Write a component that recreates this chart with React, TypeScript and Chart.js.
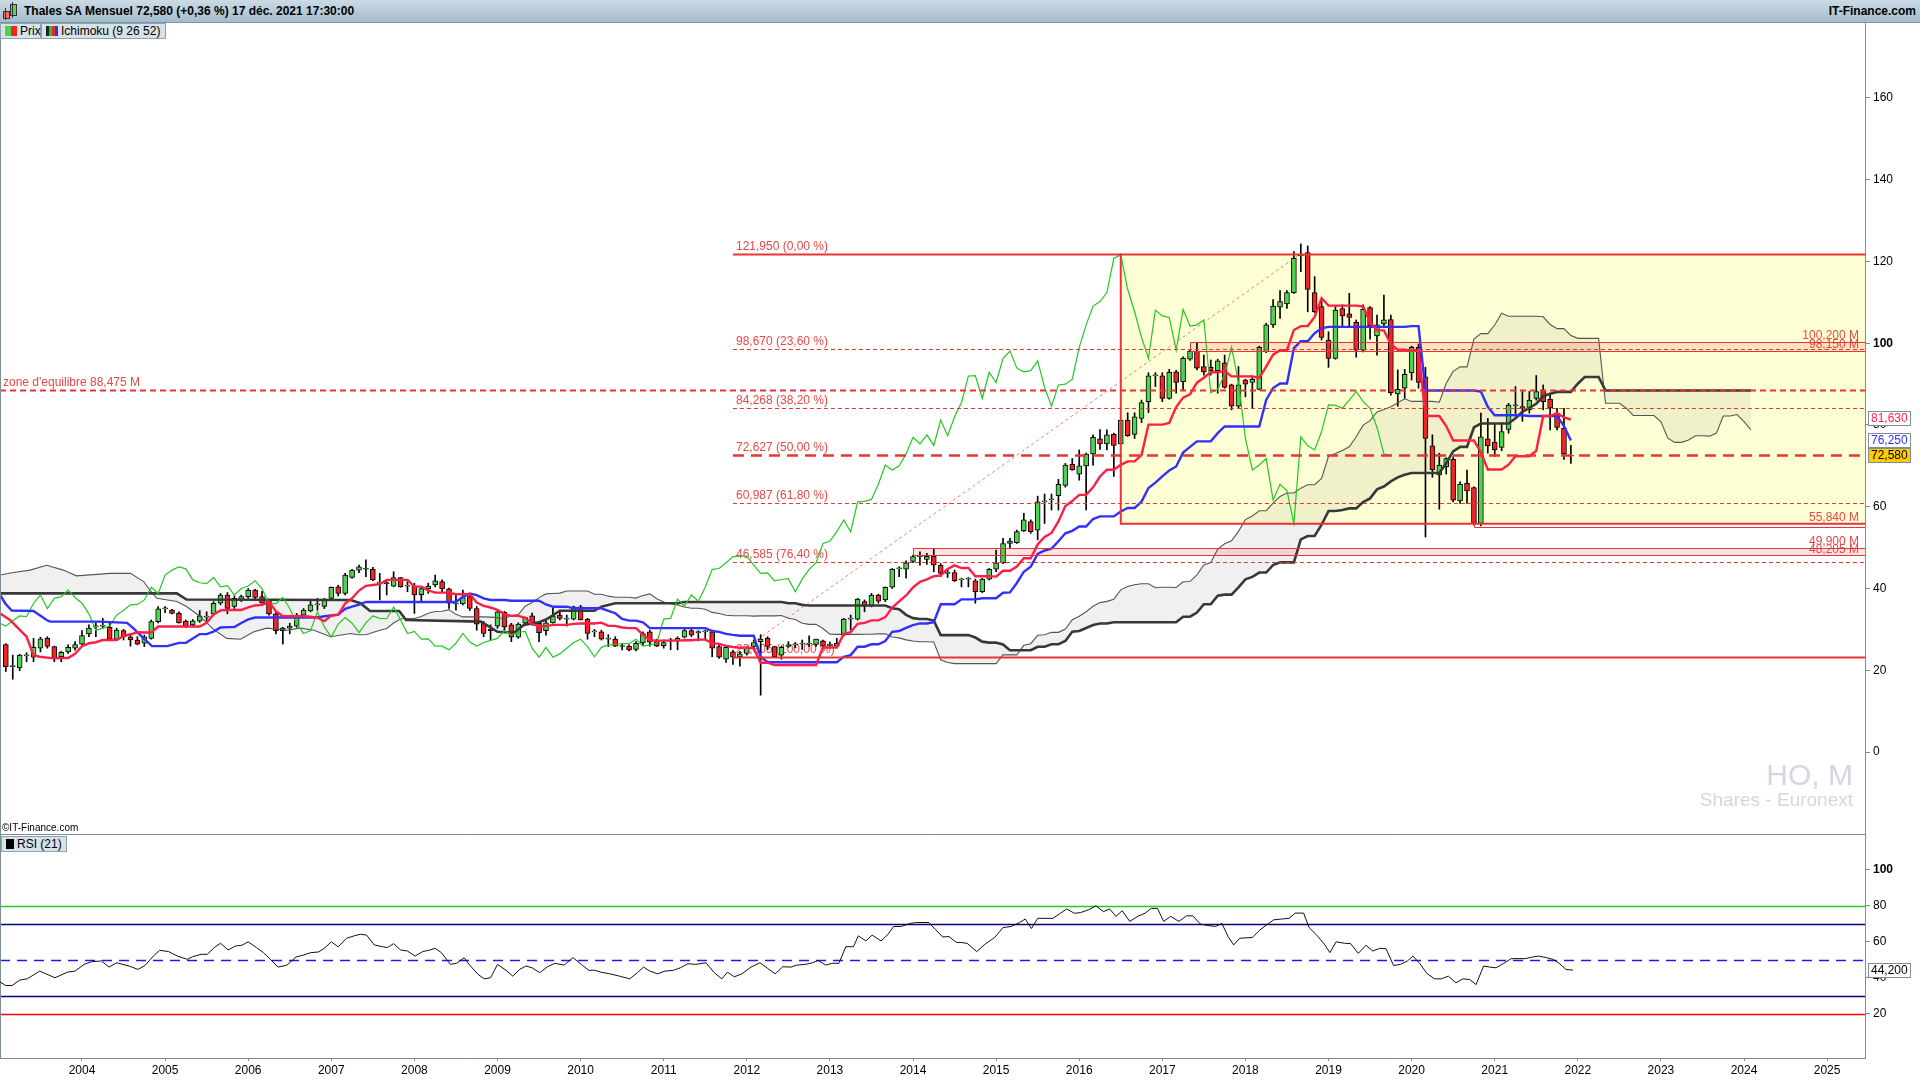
import React, { useEffect, useRef } from "react";
import { Chart, registerables } from "chart.js";

Chart.register(...registerables);

// ---------- DATA (month index counted from January 2003) ----------
const FIRST_MONTH = 1; // first candle = February 2003

const opens = [
  26.3, 20.9, 20.6, 23.5, 23.2, 25.4, 27.8, 25.8, 23.3, 24.5,
  25.4, 26.4, 28.9, 30.6, 30.8, 30.5, 27.6, 29.7, 28.2, 27.4,
  26.6, 27.8, 31.9, 35.0, 34.7, 33.9, 32.0, 31.1, 32.0, 33.0,
  33.8, 36.4, 38.4, 35.6, 37.3, 38.0, 39.6, 38.0, 37.0, 33.8,
  29.7, 30.3, 30.8, 33.5, 34.5, 36.0, 35.6, 37.6, 40.4, 38.8,
  42.7, 44.5, 44.7, 44.7, 41.3, 41.3, 40.6, 42.7, 40.6, 40.6,
  38.5, 39.9, 40.9, 41.7, 39.9, 36.2, 36.2, 38.0, 35.1, 31.5,
  30.0, 30.8, 34.2, 31.1, 28.1, 31.5, 33.3, 31.5, 29.7, 31.6,
  33.5, 32.5, 32.5, 35.5, 32.5, 29.4, 29.4, 27.6, 27.6, 25.8,
  25.9, 25.1, 26.7, 29.4, 27.0, 26.0, 27.2, 27.2, 28.1, 29.7,
  29.2, 29.4, 29.4, 25.8, 22.7, 24.5, 23.3, 24.1, 25.8, 27.0,
  27.8, 25.8, 23.7, 25.8, 26.2, 26.4, 26.4, 26.3, 27.2, 26.1,
  25.9, 28.6, 32.5, 32.5, 36.8, 35.7, 38.4, 37.2, 40.3, 44.8,
  44.7, 46.6, 47.8, 47.1, 47.9, 45.7, 43.7, 43.9, 42.1, 42.3,
  41.9, 39.2, 42.3, 44.7, 46.3, 51.0, 51.2, 54.1, 56.4, 54.3,
  61.2, 61.7, 62.7, 65.2, 70.4, 68.0, 70.0, 72.9, 76.6, 75.4,
  77.7, 75.4, 81.2, 77.7, 81.6, 85.7, 92.0, 92.0, 86.5, 93.0,
  90.6, 96.1, 98.1, 94.3, 94.1, 93.3, 95.2, 89.8, 84.6, 91.0,
  90.4, 88.7, 97.9, 104.5, 108.8, 109.6, 112.4, 121.4, 122.2, 112.4,
  109.0, 100.8, 96.3, 108.5, 107.2, 105.1, 98.3, 108.7, 101.8, 104.7,
  105.8, 87.6, 89.0, 92.8, 99.0, 91.8, 74.9, 67.8, 69.8, 71.6,
  61.4, 65.7, 64.7, 55.9, 76.6, 75.8, 74.5, 78.9, 84.7, 84.5,
  83.7, 86.5, 88.6, 86.3, 82.9, 79.2, 72.4,
];
const highs = [
  26.5, 23.7, 23.9, 24.3, 27.8, 28.1, 28.2, 25.9, 24.6, 26.2,
  27.0, 29.7, 31.1, 31.6, 32.7, 31.5, 30.3, 30.0, 29.0, 28.2,
  28.6, 32.3, 35.6, 35.6, 34.9, 34.3, 32.3, 32.4, 34.6, 34.3,
  36.8, 38.8, 39.0, 38.2, 38.4, 40.0, 39.8, 39.3, 37.2, 34.1,
  30.5, 31.5, 33.9, 35.1, 37.2, 37.6, 37.6, 40.4, 40.8, 43.7,
  44.7, 45.7, 47.0, 45.2, 43.7, 41.7, 44.1, 42.7, 41.7, 41.3,
  40.4, 41.3, 43.3, 42.1, 40.1, 38.8, 39.6, 38.7, 35.6, 31.9,
  31.1, 34.6, 34.4, 31.5, 31.6, 33.0, 34.0, 31.9, 32.3, 35.2,
  34.3, 33.5, 35.7, 35.9, 32.7, 30.0, 29.8, 28.7, 28.2, 26.4,
  26.2, 27.0, 29.4, 29.8, 27.6, 27.4, 27.8, 28.2, 30.0, 30.0,
  29.7, 29.8, 29.8, 26.2, 25.9, 24.9, 24.6, 25.8, 27.4, 28.7,
  28.2, 25.9, 25.9, 27.0, 26.8, 27.4, 28.4, 27.6, 27.4, 26.9,
  27.8, 32.7, 33.5, 37.6, 37.2, 38.8, 38.6, 40.4, 44.9, 45.3,
  46.8, 48.2, 49.0, 48.6, 49.6, 46.1, 44.7, 44.5, 42.5, 42.7,
  42.3, 42.5, 44.9, 49.4, 52.3, 52.3, 54.3, 58.4, 56.8, 62.6,
  63.1, 63.1, 66.7, 70.6, 71.8, 73.9, 73.1, 77.6, 78.9, 78.8,
  78.0, 81.3, 83.0, 83.0, 86.1, 92.8, 92.8, 92.8, 93.6, 93.4,
  96.7, 98.3, 100.1, 97.1, 95.9, 96.1, 97.1, 90.0, 94.3, 91.2,
  92.0, 99.3, 104.9, 110.7, 112.9, 112.9, 122.4, 124.3, 123.8, 116.3,
  110.6, 102.8, 108.9, 109.4, 112.2, 105.7, 109.4, 109.0, 106.9, 111.8,
  106.9, 93.5, 93.6, 99.3, 99.8, 94.1, 77.6, 73.1, 72.0, 72.2,
  66.1, 69.0, 64.9, 82.9, 81.6, 80.4, 80.6, 85.3, 89.4, 88.2,
  88.2, 92.1, 89.8, 87.7, 84.1, 84.1, 75.0,
];
const lows = [
  19.7, 17.8, 19.9, 22.1, 22.1, 24.5, 25.4, 22.1, 22.1, 24.1,
  24.9, 26.2, 28.2, 28.2, 30.3, 27.4, 27.4, 27.4, 25.9, 26.2,
  25.8, 27.6, 31.6, 34.1, 33.8, 31.5, 30.5, 30.8, 31.7, 32.0,
  33.5, 36.0, 33.8, 35.1, 36.8, 37.6, 37.3, 36.4, 33.5, 28.9,
  26.4, 28.9, 30.5, 33.3, 34.3, 34.7, 35.1, 37.2, 38.2, 38.4,
  42.5, 43.9, 42.9, 41.9, 37.2, 38.4, 40.4, 40.3, 39.2, 33.9,
  36.8, 38.8, 40.4, 39.2, 35.1, 34.7, 36.0, 34.6, 29.8, 28.2,
  27.4, 30.3, 29.5, 27.0, 27.8, 31.0, 31.0, 27.0, 28.6, 31.5,
  32.3, 30.8, 32.3, 32.3, 27.6, 28.2, 27.4, 25.8, 25.8, 25.0,
  24.7, 24.7, 26.1, 25.9, 25.8, 25.4, 25.0, 25.0, 27.9, 28.2,
  27.2, 27.6, 23.3, 22.9, 21.9, 21.4, 21.0, 23.7, 25.0, 13.9,
  25.0, 23.2, 22.7, 25.6, 25.5, 25.1, 25.8, 25.8, 25.6, 25.6,
  25.8, 28.4, 29.8, 32.3, 34.3, 35.5, 36.4, 36.8, 40.0, 42.9,
  42.5, 46.3, 45.7, 45.9, 44.1, 42.9, 42.7, 41.7, 40.4, 40.4,
  36.4, 39.0, 42.1, 44.1, 46.1, 49.8, 51.0, 53.9, 53.5, 51.9,
  55.9, 59.2, 59.2, 64.8, 68.9, 66.5, 59.2, 70.2, 74.0, 73.9,
  67.4, 75.2, 77.2, 76.7, 80.6, 83.0, 89.4, 85.7, 86.3, 87.8,
  88.6, 95.8, 93.5, 92.2, 92.2, 87.8, 89.0, 83.7, 84.1, 86.9,
  84.1, 88.6, 97.7, 103.9, 106.1, 108.5, 112.2, 117.5, 107.7, 107.5,
  100.8, 94.1, 96.1, 104.2, 103.9, 96.6, 97.9, 101.0, 97.1, 103.9,
  87.3, 84.6, 86.5, 91.0, 89.0, 52.6, 67.2, 59.4, 68.0, 61.2,
  60.8, 60.8, 55.5, 55.3, 73.1, 72.3, 73.7, 78.0, 82.8, 80.9,
  82.9, 86.1, 83.7, 78.8, 78.8, 71.6, 70.6,
];
const closes = [
  20.9, 21.0, 23.7, 23.6, 25.6, 27.7, 25.8, 23.0, 24.4, 25.6,
  26.3, 28.5, 30.3, 30.8, 30.9, 27.6, 29.8, 28.2, 27.4, 26.4,
  28.2, 31.9, 35.0, 35.1, 33.9, 31.6, 30.8, 32.1, 33.3, 33.1,
  36.4, 38.4, 35.1, 37.6, 38.0, 39.6, 37.8, 36.4, 33.8, 29.7,
  30.3, 30.8, 33.5, 34.7, 36.0, 36.1, 37.2, 40.3, 38.8, 43.3,
  44.5, 45.3, 44.8, 42.1, 41.4, 41.2, 42.7, 40.4, 40.7, 38.4,
  40.0, 40.6, 41.9, 39.9, 36.4, 36.3, 37.8, 35.1, 31.3, 29.0,
  29.7, 34.3, 30.6, 28.1, 31.3, 32.9, 31.5, 29.2, 31.6, 33.3,
  32.7, 32.6, 35.5, 32.3, 29.0, 29.5, 27.6, 27.7, 25.9, 25.9,
  25.0, 26.6, 29.0, 26.9, 25.9, 26.8, 27.3, 27.8, 29.7, 28.6,
  29.3, 29.5, 25.4, 23.2, 25.6, 23.2, 24.0, 25.4, 26.8, 27.6,
  25.8, 23.3, 25.6, 26.2, 26.3, 26.5, 26.5, 27.6, 25.9, 26.2,
  26.6, 32.5, 32.7, 37.4, 35.7, 38.4, 36.9, 40.3, 44.7, 44.9,
  46.3, 47.8, 47.9, 47.9, 45.7, 43.7, 43.8, 41.9, 42.2, 42.4,
  39.2, 42.3, 44.7, 46.3, 51.0, 51.6, 53.9, 56.8, 53.9, 61.2,
  61.3, 61.8, 65.5, 70.2, 69.0, 70.0, 72.9, 77.0, 75.4, 77.6,
  75.0, 81.2, 77.4, 82.0, 85.5, 92.0, 92.1, 86.5, 92.9, 90.4,
  96.3, 98.1, 93.9, 93.0, 93.3, 95.7, 89.2, 84.6, 89.8, 90.0,
  91.2, 99.0, 104.5, 109.1, 110.2, 112.4, 120.8, 121.6, 113.2, 107.7,
  101.4, 96.3, 108.1, 106.7, 106.3, 98.3, 108.3, 104.2, 104.5, 105.7,
  87.9, 88.7, 92.4, 99.0, 90.4, 76.7, 69.0, 70.2, 71.8, 61.6,
  65.5, 63.9, 55.9, 77.1, 74.9, 73.9, 78.4, 84.9, 84.8, 84.1,
  86.1, 88.2, 85.7, 84.1, 79.4, 72.9, 72.58,
];

// Ichimoku values read from the picture where the candles shown do not yet cover the window
const tenkanLead = [[0.2, 33.9], [1.6, 32.3], [3.05, 29.8], [4.0, 28.2], [5.0, 23.7], [5.9, 23.3], [7.9, 22.9]];
const kijunLead = [[0.2, 38.4], [0.9, 36.4], [1.85, 34.6], [5.0, 34.5], [6.9, 32.3], [7.4, 31.9], [14.6, 31.9], [18.5, 31.6], [19.4, 30.3], [20.9, 27.8], [22.1, 25.9], [24.3, 25.9]];
const spanALead = [[0.2, 43.3], [2.1, 43.9], [4.5, 44.5], [6.9, 45.7], [9.3, 44.5], [11.2, 43.1], [16.1, 43.7], [19.0, 43.7], [20.9, 41.7], [21.8, 39.6], [22.8, 37.6], [25.7, 36.8], [27.1, 35.6], [29.1, 33.1], [31.0, 30.0], [32.9, 27.8], [34.9, 27.6], [36.8, 29.4], [38.7, 30.3], [41.6, 29.8], [43.5, 30.3], [45.5, 29.8], [47.9, 28.2], [50.8, 29.0]];
const spanBLead = [[0.2, 38.8], [25.7, 38.8], [27.1, 37.3], [50.8, 37.2], [52.2, 36.4], [53.6, 34.5], [57.8, 34.5], [58.8, 32.3], [69.6, 31.9], [72.0, 29.4], [74.4, 29.2], [75.8, 31.1]];

// RSI(21): [month, value]
const rsiPoints = [
  [0, 38.1], [1, 35.7], [1.9, 35.7], [3, 38.7], [4.1, 39.4], [5.9, 43.7], [8.1, 40.0], [9.9, 43.1], [11, 43.7], [12.3, 47.4],
  [13.4, 48.9], [14.8, 49.3], [15.9, 45.9], [17, 48.3], [18.8, 46.5], [20.1, 44.6], [21.1, 46.8], [22.3, 52.0], [23.2, 55.2], [24.5, 54.5],
  [25.8, 52.0], [27.2, 50.2], [28, 51.7], [29.2, 53.0], [30.1, 53.0], [31.1, 56.7], [32, 59.1], [33.1, 55.4], [34.2, 57.6], [35.1, 58.0],
  [36, 59.9], [37.2, 56.7], [38.2, 53.9], [39.1, 50.6], [40.3, 45.9], [41.6, 47.0], [42.9, 51.5], [44, 52.6], [45, 53.9], [46.2, 54.3],
  [47.1, 56.7], [48, 59.9], [49, 57.1], [50.2, 61.9], [51.3, 63.2], [52.2, 64.1], [53.1, 63.6], [54.2, 58.2], [55.5, 57.1], [56.1, 56.7],
  [57, 58.9], [58, 55.4], [59, 54.8], [60.1, 52.0], [61.2, 54.5], [62.1, 55.2], [63, 56.3], [63.9, 53.9], [65.2, 47.4], [66.1, 48.0],
  [67.2, 51.1], [67.9, 47.4], [69.2, 41.8], [70.1, 39.4], [71, 40.0], [72, 47.4], [73.2, 44.2], [74.2, 40.9], [75.2, 44.6], [76.1, 46.5],
  [77, 45.5], [78.1, 42.8], [79.2, 46.1], [80.3, 48.0], [81.6, 47.0], [82.9, 51.1], [84.1, 47.4], [85.2, 44.1], [86, 44.2], [86.9, 43.1],
  [88.2, 42.2], [89.6, 40.9], [91.1, 39.4], [92.2, 42.8], [93.1, 45.9], [94, 43.7], [95.1, 42.2], [96.2, 43.7], [97.4, 44.1], [98.4, 45.5],
  [99.5, 47.8], [100.6, 47.4], [102.1, 48.3], [103.3, 42.8], [104.4, 39.4], [105.2, 43.1], [106.2, 40.5], [107.3, 42.2], [108.6, 45.9], [109.9, 48.3],
  [111, 45.2], [112.1, 42.2], [113.2, 46.1], [114.4, 45.9], [115.2, 47.0], [116.4, 47.4], [117.5, 48.3], [118.3, 49.6], [119.4, 47.0], [120.3, 48.0],
  [121.3, 48.0], [122.3, 57.2], [123.4, 57.2], [124.1, 63.2], [125.2, 60.4], [126.1, 63.6], [127.4, 60.4], [128.4, 64.1], [129.2, 68.4], [130.3, 68.4],
  [131.6, 70.1], [132.5, 70.6], [134.3, 70.6], [135.2, 66.9], [136.3, 62.6], [137.2, 62.8], [138.3, 59.5], [139, 59.5], [139.8, 59.1], [141.2, 54.5],
  [142.5, 58.9], [143.8, 62.3], [145, 67.8], [146.2, 68.4], [147.4, 70.6], [148.2, 72.5], [149.1, 67.3], [150, 72.9], [152.2, 72.9], [154.2, 78.1],
  [155.3, 75.7], [156.2, 76.1], [157.4, 77.7], [158.4, 79.9], [159.5, 76.6], [160.4, 78.1], [161.3, 74.0], [162.2, 77.1], [163.3, 71.2], [164.6, 74.3],
  [165.5, 75.7], [166.4, 78.4], [167.3, 78.4], [168.2, 71.2], [169.2, 74.0], [170.4, 71.2], [171.5, 74.3], [172.4, 74.3], [173.5, 69.7], [174.8, 68.8],
  [175.7, 68.4], [176.6, 70.1], [177.5, 62.8], [178.3, 58.2], [179.2, 61.9], [181, 62.3], [182.1, 66.5], [183, 69.1], [184.1, 72.1], [185.2, 72.5],
  [186.3, 72.9], [187.2, 75.8], [188.4, 75.8], [189.2, 67.8], [190.3, 63.6], [191.4, 58.6], [192.2, 53.9], [193.1, 59.9], [194.3, 59.1], [195.2, 58.9],
  [196.3, 53.5], [197.4, 58.0], [198.4, 54.8], [199.4, 56.3], [200.3, 56.1], [201.4, 46.8], [202.4, 47.4], [203.4, 49.3], [204.2, 52.0], [205.2, 47.8],
  [206.2, 42.4], [207.3, 39.4], [208.3, 39.4], [209.3, 40.9], [210.4, 37.2], [211.4, 39.4], [212.4, 39.0], [213.3, 36.2], [214.4, 46.5], [215.3, 45.9],
  [216.2, 45.5], [217.3, 48.0], [218.4, 50.6], [219.5, 50.6], [220.4, 50.6], [221.5, 51.5], [222.3, 52.0], [223.5, 51.1], [224.4, 50.2], [225.3, 48.0],
  [226.3, 44.6], [227.3, 44.2],
];

const yearTicks = [12, 24, 36, 48, 60, 72, 84, 96, 108, 120, 132, 144, 156, 168, 180, 192, 204, 216, 228, 240, 252, 264];
const priceTicks = [0, 20, 40, 60, 80, 100, 120, 140, 160];
const rsiTicks = [20, 40, 60, 80, 100];
const rsiLevels = [80, 70, 50, 30, 20];

const fibLevels = [121.95, 98.67, 84.268, 72.627, 60.987, 46.585, 23.305];
const fibLabels = ["121,950 (0,00 %)", "98,670 (23,60 %)", "84,268 (38,20 %)", "72,627 (50,00 %)", "60,987 (61,80 %)", "46,585 (76,40 %)", "23,305 (100,00 %)"];
const fibStartMonth = 106;
const fibHighMonth = 188;
const equilibrium = 88.475;
const boxStartMonth = 162;
const boxTop = 121.95;
const boxBottom = 55.84;
const upperZone = [98.15, 100.2];
const upperZoneStart = 172;
const lowerZone = [48.205, 49.9];
const lowerZoneStart = 132;
const bottomZone = [55.0, 55.84];
const bottomZoneStart = 213;
const lastTenkan = 81.63;
const lastKijun = 76.25;
const lastClose = 72.58;
const lastRsi = 44.2;

// ---------- STYLE ----------
const FONT = '"Liberation Sans", Arial, sans-serif';
const AXIS = "#7d8e9b";
const RED = "#e83434";
const RED_TXT = "#e54848";
const X_MIN = 0.16;
const X_MAX = 269.47;

function midRange(i: number, len: number) {
  if (i - len + 1 < 0) return null;
  let hi = -Infinity;
  let lo = Infinity;
  for (let k = i - len + 1; k <= i; k++) {
    hi = Math.max(hi, highs[k]);
    lo = Math.min(lo, lows[k]);
  }
  return (hi + lo) / 2;
}

function buildSeries() {
  const tenkan: any[] = tenkanLead.map(([x, y]) => ({ x, y }));
  const kijun: any[] = kijunLead.map(([x, y]) => ({ x, y }));
  const spanA: any[] = spanALead.map(([x, y]) => ({ x, y }));
  const spanB: any[] = spanBLead.map(([x, y]) => ({ x, y }));
  const chikou: any[] = [];
  const bodies: any[] = [];
  const wicks: any[] = [];
  const colors: string[] = [];
  for (let i = 0; i < closes.length; i++) {
    const m = FIRST_MONTH + i;
    const t = midRange(i, 9);
    const k = midRange(i, 26);
    const b = midRange(i, 52);
    if (t !== null) tenkan.push({ x: m, y: t });
    if (k !== null) kijun.push({ x: m, y: k });
    if (t !== null && k !== null) spanA.push({ x: m + 26, y: (t + k) / 2 });
    if (b !== null) spanB.push({ x: m + 26, y: b });
    chikou.push({ x: m - 26, y: closes[i] });
    bodies.push({ x: m, y: [opens[i], closes[i]] });
    wicks.push({ x: m, y: [lows[i], highs[i]] });
    colors.push(closes[i] >= opens[i] ? "#4fd24f" : "#f22424");
  }
  return { tenkan, kijun, spanA, spanB, chikou, bodies, wicks, colors };
}

function valueBox(ctx: any, x0: number, yc: number, text: string, color: string, bg: string) {
  ctx.save();
  ctx.font = "12px " + FONT;
  const w = Math.round(ctx.measureText(text).width) + 6;
  ctx.fillStyle = bg;
  ctx.fillRect(x0, Math.round(yc) - 7, w, 15);
  ctx.strokeStyle = AXIS;
  ctx.lineWidth = 1;
  ctx.strokeRect(x0 + 0.5, Math.round(yc) - 6.5, w - 1, 14);
  ctx.fillStyle = color;
  ctx.textAlign = "left";
  ctx.textBaseline = "middle";
  ctx.fillText(text, x0 + 3, Math.round(yc) + 1);
  ctx.restore();
}

function hLine(ctx: any, x1: number, x2: number, y: number, width: number, dash: number[], color: string) {
  ctx.save();
  ctx.strokeStyle = color;
  ctx.lineWidth = width;
  ctx.setLineDash(dash);
  ctx.beginPath();
  ctx.moveTo(x1, y);
  ctx.lineTo(x2, y);
  ctx.stroke();
  ctx.restore();
}

const mainDecor = {
  id: "mainDecor",
  beforeDatasetsDraw(chart: any) {
    const { ctx, chartArea: a, scales } = chart;
    const X = (v: number) => scales.x.getPixelForValue(v);
    const Y = (v: number) => scales.y.getPixelForValue(v);
    ctx.save();
    ctx.beginPath();
    ctx.rect(a.left, a.top, a.right - a.left, a.bottom - a.top);
    ctx.clip();

    // watermark
    ctx.fillStyle = "#d2d7e3";
    ctx.textAlign = "right";
    ctx.textBaseline = "alphabetic";
    ctx.font = "30px " + FONT;
    ctx.fillText("HO, M", a.right - 12, 785);
    ctx.font = "19px " + FONT;
    ctx.fillText("Shares - Euronext", a.right - 12, 806);

    // yellow box
    const bx = X(boxStartMonth);
    ctx.fillStyle = "#ffffd6";
    ctx.fillRect(bx, Y(boxTop), a.right - bx, Y(boxBottom) - Y(boxTop));

    // zones (fill)
    [
      [upperZoneStart, upperZone[0], upperZone[1]],
      [lowerZoneStart, lowerZone[0], lowerZone[1]],
    ].forEach(([s, lo, hi]) => {
      const zx = X(s);
      ctx.fillStyle = "rgba(232,60,60,0.15)";
      ctx.fillRect(zx, Y(hi), a.right - zx, Y(lo) - Y(hi));
    });

    // cloud
    const dA = chart.data.datasets.find((d: any) => d.label === "Senkou A").data;
    const dB = chart.data.datasets.find((d: any) => d.label === "Senkou B").data;
    ctx.beginPath();
    dA.forEach((p: any, i: number) => (i ? ctx.lineTo(X(p.x), Y(p.y)) : ctx.moveTo(X(p.x), Y(p.y))));
    for (let i = dB.length - 1; i >= 0; i--) ctx.lineTo(X(dB[i].x), Y(dB[i].y));
    ctx.closePath();
    ctx.fillStyle = "rgba(0,0,0,0.06)";
    ctx.fill();

    // labels (behind the candles)
    ctx.fillStyle = RED_TXT;
    ctx.font = "12px " + FONT;
    ctx.textAlign = "left";
    ctx.textBaseline = "alphabetic";
    const fx = X(fibStartMonth);
    fibLevels.forEach((lv, i) => {
      ctx.fillText(fibLabels[i], fx + 3, Math.round(Y(lv)) - 4);
    });
    ctx.fillText("zone d'equilibre 88,475 M", a.left + 3, Math.round(Y(equilibrium)) - 4);
    ctx.textAlign = "right";
    const rx = a.right - 6;
    ctx.fillText("100,200 M", rx, Y(upperZone[1]) - 3);
    ctx.fillText("98,150 M", rx, Y(upperZone[0]) - 3);
    ctx.fillText("55,840 M", rx, Y(boxBottom) - 3);
    ctx.fillText("49,900 M", rx, Y(lowerZone[1]) - 3);
    ctx.fillText("48,205 M", rx, Y(lowerZone[0]) - 2);
    ctx.restore();
  },
  afterDatasetsDraw(chart: any) {
    const { ctx, chartArea: a, scales } = chart;
    const X = (v: number) => scales.x.getPixelForValue(v);
    const Y = (v: number) => scales.y.getPixelForValue(v);
    ctx.save();
    ctx.beginPath();
    ctx.rect(a.left, a.top, a.right - a.left, a.bottom - a.top);
    ctx.clip();

    // zone borders
    [
      [upperZoneStart, upperZone[0], upperZone[1]],
      [lowerZoneStart, lowerZone[0], lowerZone[1]],
    ].forEach(([s, lo, hi]) => {
      const zx = Math.round(X(s)) + 0.5;
      ctx.strokeStyle = RED;
      ctx.lineWidth = 1;
      ctx.setLineDash([]);
      ctx.beginPath();
      ctx.moveTo(a.right, Math.round(Y(hi)) + 0.5);
      ctx.lineTo(zx, Math.round(Y(hi)) + 0.5);
      ctx.lineTo(zx, Math.round(Y(lo)) + 0.5);
      ctx.lineTo(a.right, Math.round(Y(lo)) + 0.5);
      ctx.stroke();
    });

    // diagonal of the retracement
    ctx.save();
    ctx.strokeStyle = "rgba(235,90,90,0.8)";
    ctx.lineWidth = 1;
    ctx.setLineDash([3, 3]);
    ctx.beginPath();
    ctx.moveTo(X(fibStartMonth), Y(fibLevels[6]));
    ctx.lineTo(X(fibHighMonth), Y(fibLevels[0]));
    ctx.stroke();
    ctx.restore();

    // fibonacci levels
    const fx = X(fibStartMonth);
    fibLevels.forEach((lv, i) => {
      const y = Math.round(Y(lv)) + 0.5;
      if (i === 0 || i === 6) hLine(ctx, fx, a.right, y, 2, [], RED);
      else if (i === 3) hLine(ctx, fx, a.right, y, 2.5, [11, 7], RED);
      else hLine(ctx, fx, a.right, y, 1, [4, 3], RED);
    });

    // equilibrium line
    hLine(ctx, a.left, a.right, Math.round(Y(equilibrium)) + 0.5, 2, [6, 4], RED);

    // box border
    const bx = X(boxStartMonth);
    ctx.strokeStyle = RED;
    ctx.lineWidth = 2;
    ctx.setLineDash([]);
    ctx.beginPath();
    ctx.moveTo(bx, Y(boxTop));
    ctx.lineTo(bx, Y(boxBottom));
    ctx.lineTo(a.right, Y(boxBottom));
    ctx.stroke();

    // small zone below 55,84
    const bzx = Math.round(X(bottomZoneStart)) + 0.5;
    ctx.lineWidth = 1;
    ctx.beginPath();
    ctx.moveTo(bzx, Y(bottomZone[1]));
    ctx.lineTo(bzx, Math.round(Y(bottomZone[0])) + 0.5);
    ctx.lineTo(a.right, Math.round(Y(bottomZone[0])) + 0.5);
    ctx.stroke();
    ctx.restore();
  },
  afterDraw(chart: any) {
    const { ctx, chartArea: a, scales } = chart;
    const Y = (v: number) => scales.y.getPixelForValue(v);
    ctx.save();
    ctx.strokeStyle = AXIS;
    ctx.lineWidth = 1;
    ctx.beginPath();
    ctx.moveTo(0.5, 22);
    ctx.lineTo(0.5, a.bottom);
    ctx.moveTo(Math.round(a.right) + 0.5, 22);
    ctx.lineTo(Math.round(a.right) + 0.5, a.top);
    ctx.stroke();
    ctx.fillStyle = "#000";
    ctx.font = "10px " + FONT;
    ctx.textAlign = "left";
    ctx.textBaseline = "alphabetic";
    ctx.fillText("\u00A9IT-Finance.com", 2, a.bottom - 3);
    ctx.restore();
    valueBox(ctx, a.right + 3, Y(lastTenkan), "81,630", "#ff1e46", "#ffffff");
    valueBox(ctx, a.right + 3, Y(lastKijun), "76,250", "#3030ff", "#ffffff");
    valueBox(ctx, a.right + 3, Y(lastClose), "72,580", "#000000", "#ffcc00");
  },
};

const rsiDecor = {
  id: "rsiDecor",
  beforeDatasetsDraw(chart: any) {
    const { ctx, chartArea: a, scales } = chart;
    const Y = (v: number) => Math.round(scales.y.getPixelForValue(v)) + 0.5;
    const styles: any = {
      80: ["#22cc22", []],
      70: ["#000088", []],
      50: ["#1a1aff", [10, 7]],
      30: ["#000088", []],
      20: ["#ff0000", []],
    };
    rsiLevels.forEach((lv) => {
      const [c, d] = styles[lv];
      hLine(ctx, a.left, a.right, Y(lv), 1.5, d, c);
    });
    ctx.save();
    ctx.strokeStyle = AXIS;
    ctx.lineWidth = 1;
    ctx.beginPath();
    ctx.moveTo(0, 0.5);
    ctx.lineTo(a.right, 0.5);
    ctx.moveTo(0.5, 0);
    ctx.lineTo(0.5, a.bottom);
    ctx.stroke();
    ctx.restore();
  },
  afterDraw(chart: any) {
    const { ctx, chartArea: a, scales } = chart;
    valueBox(ctx, a.right + 3, scales.y.getPixelForValue(lastRsi), "44,200", "#000000", "#ffffff");
  },
};

const tickFont = (c: any) => ({ family: FONT, size: 12, weight: c.tick && c.tick.value === 100 ? "bold" : "normal" });

export default function App() {
  const mainRef = useRef<HTMLCanvasElement>(null);
  const rsiRef = useRef<HTMLCanvasElement>(null);

  useEffect(() => {
    document.body.style.margin = "0";
    Chart.defaults.font.family = FONT;
    const s = buildSeries();
    const lineDs = (label: string, data: any[], color: string, width: number, order: number) => ({
      type: "line",
      label,
      data,
      borderColor: color,
      borderWidth: width,
      pointRadius: 0,
      tension: 0,
      fill: false,
      order,
    });
    const main = new Chart(mainRef.current as any, {
      type: "line",
      data: {
        datasets: [
          lineDs("Tenkan", s.tenkan, "#ff1e46", 2.4, 1),
          lineDs("Kijun", s.kijun, "#3030ff", 2.4, 2),
          lineDs("Chikou", s.chikou, "#22c822", 1.2, 3),
          lineDs("Senkou B", s.spanB, "#383838", 2.6, 4),
          lineDs("Senkou A", s.spanA, "#555555", 1.1, 5),
          {
            type: "bar",
            label: "Corps",
            data: s.bodies,
            backgroundColor: s.colors,
            borderColor: "#000000",
            borderWidth: 1,
            borderSkipped: false,
            barThickness: 5,
            grouped: false,
            minBarLength: 1,
            order: 6,
          },
          {
            type: "bar",
            label: "Meches",
            data: s.wicks,
            backgroundColor: "#000000",
            borderWidth: 0,
            barThickness: 1,
            grouped: false,
            order: 7,
          },
        ] as any,
      },
      options: {
        responsive: false,
        animation: false,
        events: [],
        layout: { padding: { top: 24, left: 0, right: 0, bottom: 0 } },
        plugins: { legend: { display: false }, tooltip: { enabled: false } },
        scales: {
          x: { type: "linear", min: X_MIN, max: X_MAX, display: false, offset: false },
          y: {
            type: "linear",
            position: "right",
            min: (752 - 834) / 4.0875,
            max: (752 - 24) / 4.0875,
            afterBuildTicks: (sc: any) => {
              sc.ticks = priceTicks.map((v) => ({ value: v }));
            },
            afterFit: (sc: any) => {
              sc.width = 55;
              sc.paddingTop = 0;
              sc.paddingBottom = 0;
            },
            grid: { drawOnChartArea: false, drawTicks: true, tickLength: 5, color: AXIS },
            border: { display: true, color: AXIS },
            ticks: { color: "#000", padding: 3, font: tickFont, callback: (v: any) => String(v) },
          },
        },
      } as any,
      plugins: [mainDecor],
    });

    const rsi = new Chart(rsiRef.current as any, {
      type: "line",
      data: {
        datasets: [lineDs("RSI", rsiPoints.map(([x, y]) => ({ x, y })), "#111111", 1, 1)] as any,
      },
      options: {
        responsive: false,
        animation: false,
        events: [],
        layout: { padding: 0 },
        plugins: { legend: { display: false }, tooltip: { enabled: false } },
        scales: {
          x: {
            type: "linear",
            min: X_MIN,
            max: X_MAX,
            offset: false,
            afterBuildTicks: (sc: any) => {
              sc.ticks = yearTicks.map((v) => ({ value: v }));
            },
            afterFit: (sc: any) => {
              sc.height = 22;
              sc.paddingLeft = 0;
              sc.paddingRight = 0;
            },
            grid: { drawOnChartArea: false, drawTicks: true, tickLength: 3, color: AXIS },
            border: { display: true, color: AXIS },
            ticks: {
              color: "#000",
              padding: 2,
              autoSkip: false,
              maxRotation: 0,
              font: { family: FONT, size: 12 },
              callback: (v: any) => String(2003 + Math.round(v / 12)),
            },
          },
          y: {
            type: "linear",
            position: "right",
            min: (1050 - 1058) / 1.806,
            max: (1050 - 834) / 1.806,
            afterBuildTicks: (sc: any) => {
              sc.ticks = rsiTicks.map((v) => ({ value: v }));
            },
            afterFit: (sc: any) => {
              sc.width = 55;
              sc.paddingTop = 0;
              sc.paddingBottom = 0;
            },
            grid: { drawOnChartArea: false, drawTicks: true, tickLength: 5, color: AXIS },
            border: { display: true, color: AXIS },
            ticks: { color: "#000", padding: 3, font: tickFont, callback: (v: any) => String(v) },
          },
        },
      } as any,
      plugins: [rsiDecor],
    });

    return () => {
      main.destroy();
      rsi.destroy();
    };
  }, []);

  const box: any = {
    position: "absolute",
    height: 16,
    boxSizing: "border-box",
    background: "#d6e1e8",
    border: "1px solid #8fa2b0",
    font: "12px " + FONT,
    color: "#000",
    lineHeight: "14px",
    whiteSpace: "nowrap",
  };
  const sw = (left: number, top: number, w: number, h: number, c: string): any => ({
    position: "absolute",
    left,
    top,
    width: w,
    height: h,
    background: c,
  });

  return (
    <div style={{ position: "relative", width: 1920, height: 1080, overflow: "hidden", background: "#ffffff", fontFamily: FONT }}>
      <canvas ref={mainRef} width={1920} height={834} style={{ position: "absolute", left: 0, top: 0, width: 1920, height: 834 }} />
      <canvas ref={rsiRef} width={1920} height={246} style={{ position: "absolute", left: 0, top: 834, width: 1920, height: 246 }} />

      {/* title bar */}
      <div style={{ position: "absolute", left: 0, top: 0, width: 1920, height: 23, boxSizing: "border-box", background: "linear-gradient(#cbdbe5, #a3bccb)", borderBottom: "1px solid #7f95a3" }}>
        <div style={{ position: "absolute", left: 3, top: 11, width: 5, height: 6, background: "#f07070", border: "1px solid #333" }} />
        <div style={{ position: "absolute", left: 5, top: 8, width: 1, height: 12, background: "#333" }} />
        <div style={{ position: "absolute", left: 10, top: 4, width: 5, height: 10, background: "#5cd45c", border: "1px solid #333" }} />
        <div style={{ position: "absolute", left: 12, top: 2, width: 1, height: 16, background: "#333" }} />
        <span style={{ position: "absolute", left: 24, top: 4, font: "bold 12px " + FONT, color: "#000", whiteSpace: "nowrap" }}>
          Thales SA Mensuel 72,580 (+0,36 %) 17 déc. 2021 17:30:00
        </span>
        <span style={{ position: "absolute", right: 4, top: 4, font: "bold 12px " + FONT, color: "#000" }}>IT-Finance.com</span>
      </div>

      {/* legends */}
      <div style={{ ...box, left: 0, top: 23, width: 41 }}>
        <div style={sw(4, 2, 6, 10, "#4fd24f")} />
        <div style={sw(10, 2, 6, 10, "#f22424")} />
        <span style={{ position: "absolute", left: 19, top: 0 }}>Prix</span>
      </div>
      <div style={{ ...box, left: 41, top: 23, width: 125 }}>
        <div style={sw(4, 2, 3, 10, "#222")} />
        <div style={sw(7, 2, 3, 10, "#22c822")} />
        <div style={sw(10, 2, 3, 10, "#f22424")} />
        <div style={sw(13, 2, 3, 10, "#3030ff")} />
        <span style={{ position: "absolute", left: 19, top: 0 }}>Ichimoku (9 26 52)</span>
      </div>
      <div style={{ ...box, left: 1, top: 836, width: 66 }}>
        <div style={sw(4, 2, 8, 10, "#000")} />
        <span style={{ position: "absolute", left: 15, top: 0 }}>RSI (21)</span>
      </div>
    </div>
  );
}
